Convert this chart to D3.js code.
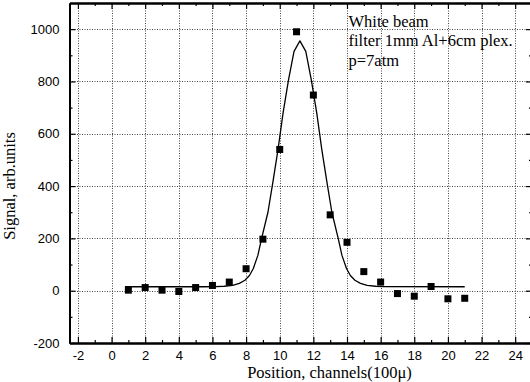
<!DOCTYPE html>
<html>
<head>
<meta charset="utf-8">
<script src="https://cdn.jsdelivr.net/npm/d3@7"></script>
<style>
  body { margin: 0; background: #fff; }
  svg { display: block; }
</style>
</head>
<body>
<div id="chart"></div>
<script>
// Measured points
const positions = [1, 2, 3, 4, 5, 6, 7, 8, 9, 10, 11, 12, 13, 14, 15, 16, 17, 18, 19, 20, 21];
const signals = [2, 12, 2, -3, 12, 20, 33, 84, 197, 540, 990, 748, 290, 185, 73, 33, -11, -21, 16, -31, -29];

// Fit curve
const fitX = [0.8, 5.5, 6.2, 6.7, 7.2, 7.6, 7.93, 8.2, 8.43, 8.7, 8.92, 9.3, 9.61, 9.9, 10.2, 10.52, 10.85, 11.2,
  11.55, 11.88, 12.2, 12.5, 12.79, 13.1, 13.48, 13.7, 13.97, 14.2, 14.47, 14.8, 15.2, 15.7, 16.2, 21];
const fitY = [15, 15, 15.5, 17, 20, 28, 40, 58, 85, 135, 199, 300, 422, 540, 680, 805, 915, 955,
  915, 805, 680, 540, 422, 300, 199, 135, 85, 58, 40, 28, 20, 17, 15.5, 15];

const xTicks = [-2, 0, 2, 4, 6, 8, 10, 12, 14, 16, 18, 20, 22, 24];
const yTicks = [-200, 0, 200, 400, 600, 800, 1000];

const notes = ["White beam", "filter 1mm Al+6cm plex.", "p=7atm"];

const width = 530;
const height = 382;
const margin = { top: 3, right: -2, bottom: 39, left: 69.5 };

const svg = d3.select("#chart").append("svg")
  .attr("width", width)
  .attr("height", height);

const x = d3.scaleLinear().domain([-2.5, 25]).range([margin.left, width - margin.right]);
const y = d3.scaleLinear().domain([-200, 1100]).range([height - margin.bottom, margin.top]);

const x0 = x.range()[0], x1 = x.range()[1];
const y0 = y.range()[0], y1 = y.range()[1];

// Grid
const grid = svg.append("g")
  .attr("stroke", "#444")
  .attr("stroke-width", 1)
  .attr("stroke-dasharray", "1,1.5");

grid.selectAll("line.v")
  .data(xTicks)
  .join("line")
  .attr("class", "v")
  .attr("x1", d => Math.round(x(d)) + 0.5)
  .attr("x2", d => Math.round(x(d)) + 0.5)
  .attr("y1", y1)
  .attr("y2", y0);

grid.selectAll("line.h")
  .data(yTicks.filter(d => d > -200))
  .join("line")
  .attr("class", "h")
  .attr("x1", x0)
  .attr("x2", x1)
  .attr("y1", d => Math.round(y(d)) + 0.5)
  .attr("y2", d => Math.round(y(d)) + 0.5);

// Axes with inward ticks
const minorX = d3.range(-2, 25, 1).filter(d => d % 2 !== 0);
const minorY = d3.range(-100, 1100, 200);
const fontSans = "'Liberation Sans', Arial, sans-serif";
const fontSerif = "'Liberation Serif', 'Times New Roman', serif";
const plain = d => String(d);

const axBottom = svg.append("g")
  .attr("transform", `translate(0,${y0})`)
  .call(d3.axisBottom(x).tickValues(xTicks).tickFormat(plain).tickSizeInner(-6).tickSizeOuter(0).tickPadding(8));
axBottom.append("g")
  .call(d3.axisBottom(x).tickValues(minorX).tickSizeInner(-3).tickSizeOuter(0).tickFormat(""));

const axTop = svg.append("g")
  .attr("transform", `translate(0,${y1})`)
  .call(d3.axisTop(x).tickValues(xTicks).tickSizeInner(-6).tickSizeOuter(0).tickFormat(""));
axTop.append("g")
  .call(d3.axisTop(x).tickValues(minorX).tickSizeInner(-3).tickSizeOuter(0).tickFormat(""));

const axLeft = svg.append("g")
  .attr("transform", `translate(${x0},0)`)
  .call(d3.axisLeft(y).tickValues(yTicks).tickFormat(plain).tickSizeInner(-6).tickSizeOuter(0).tickPadding(10));
axLeft.append("g")
  .call(d3.axisLeft(y).tickValues(minorY).tickSizeInner(-3).tickSizeOuter(0).tickFormat(""));

const axRight = svg.append("g")
  .attr("transform", `translate(${x1},0)`)
  .call(d3.axisRight(y).tickValues(yTicks).tickSizeInner(-6).tickSizeOuter(0).tickFormat(""));
axRight.append("g")
  .call(d3.axisRight(y).tickValues(minorY).tickSizeInner(-3).tickSizeOuter(0).tickFormat(""));

svg.selectAll(".domain").attr("stroke", "#000").attr("stroke-width", 2);
svg.selectAll(".tick line").attr("stroke", "#000").attr("stroke-width", 1.2);
svg.selectAll(".tick text")
  .attr("fill", "#000")
  .style("font-family", fontSans)
  .style("font-size", "13px");

// Fit curve
const line = d3.line()
  .x((d, i) => x(fitX[i]))
  .y(d => y(d));

svg.append("path")
  .datum(fitY)
  .attr("fill", "none")
  .attr("stroke", "#000")
  .attr("stroke-width", 1.3)
  .attr("stroke-linejoin", "round")
  .attr("d", line);

// Points
const s = 7;
svg.append("g")
  .selectAll("rect")
  .data(signals)
  .join("rect")
  .attr("x", (d, i) => x(positions[i]) - s / 2)
  .attr("y", d => y(d) - s / 2)
  .attr("width", s)
  .attr("height", s)
  .attr("fill", "#000");

// Annotation
svg.append("g")
  .selectAll("text")
  .data(notes)
  .join("text")
  .attr("x", 348.5)
  .attr("y", (d, i) => 26.5 + i * 19.5)
  .style("font-family", fontSerif)
  .style("font-size", "16.5px")
  .text(d => d);

// Axis titles
svg.append("text")
  .attr("x", 329.5)
  .attr("y", 378)
  .attr("text-anchor", "middle")
  .style("font-family", fontSerif)
  .style("font-size", "16.5px")
  .text("Position, channels(100\u03bc)");

svg.append("text")
  .attr("transform", "translate(15,186) rotate(-90)")
  .attr("text-anchor", "middle")
  .style("font-family", fontSerif)
  .style("font-size", "16.5px")
  .text("Signal, arb.units");
</script>
</body>
</html>
